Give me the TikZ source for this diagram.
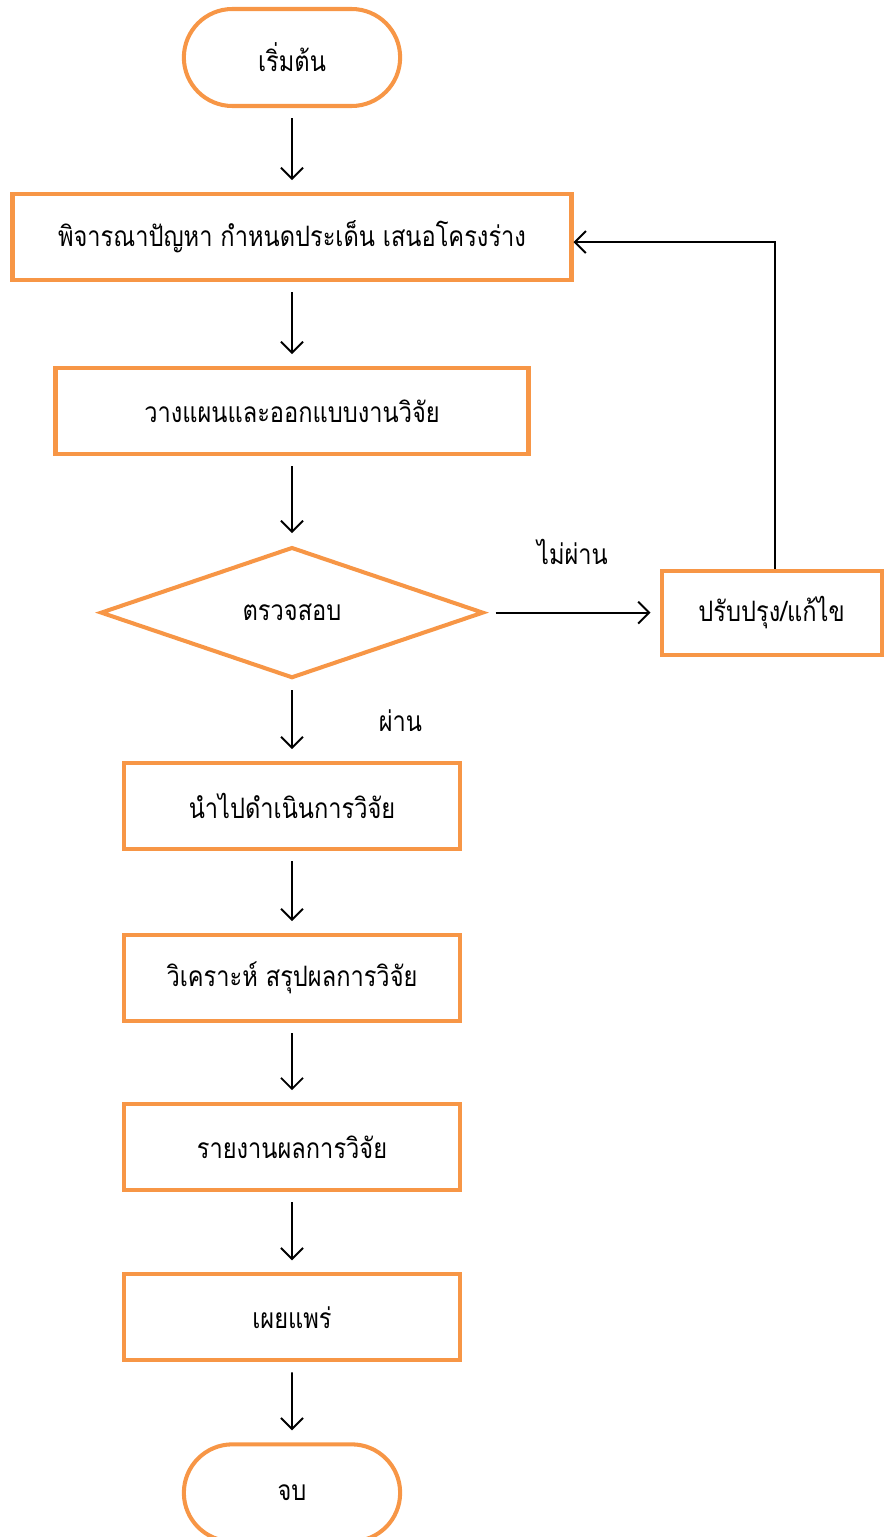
\documentclass[tikz,border=0pt]{standalone}
\usepackage{fontspec}
\newfontfamily\thaifont[Script=Thai, FakeStretch=0.84]{Loma}
\usetikzlibrary{positioning, arrows.meta, shapes.geometric, shapes.misc}
\definecolor{flowOrange}{RGB}{247,150,70}

\begin{document}
\begin{tikzpicture}[
        node distance=1.64cm,
        font=\thaifont\fontsize{16}{19}\selectfont,
        every node/.style={text=black},
        termbox/.style={draw=flowOrange, line width=2.3pt, rounded rectangle, minimum width=4.56cm, minimum height=1.94cm},
        stepbox/.style={draw=flowOrange, line width=2.3pt, align=center, minimum width=6.72cm, minimum height=1.72cm},
        checkbox/.style={draw=flowOrange, line width=2.3pt, diamond, aspect=2.9, inner sep=0pt, minimum width=7.66cm, minimum height=2.62cm},
        arrow/.style={-{Straight Barb[length=2.2mm, width=4.4mm]}, line width=1.1pt, black, shorten <=0.2cm, shorten >=0.24cm}
    ]
    \useasboundingbox (0,0) rectangle (17.66,-30.74);

    \node[termbox] (start) at (5.84,-1.15) {เริ่มต้น};
    \node[stepbox, minimum width=11.18cm, below=1.68cm of start] (plan) {พิจารณาปัญหา กำหนดประเด็น เสนอโครงร่าง};
    \node[stepbox, minimum width=9.46cm, below=1.68cm of plan] (design) {วางแผนและออกแบบงานวิจัย};
    \node[checkbox, below=1.78cm of design] (check) {ตรวจสอบ};
    \node[stepbox, minimum width=4.4cm, minimum height=1.68cm, right=3.48cm of check] (revise) {ปรับปรุง/แก้ไข};
    \node[stepbox, below=1.62cm of check] (run) {นำไปดำเนินการวิจัย};
    \node[stepbox, below=1.64cm of run] (analyse) {วิเคราะห์ สรุปผลการวิจัย};
    \node[stepbox, below=1.58cm of analyse] (report) {รายงานผลการวิจัย};
    \node[stepbox, below=1.6cm of report] (publish) {เผยแพร่};
    \node[termbox, below=1.6cm of publish] (finish) {จบ};

    \draw[arrow] (start) -- (plan);
    \draw[arrow] (plan) -- (design);
    \draw[arrow] (design) -- (check);
    \draw[arrow, shorten >=0.18cm] (check) -- node[above=0.82cm] (fail) {ไม่ผ่าน} (revise);
    \draw[arrow] (check) -- node[right=1.6cm] (pass) {ผ่าน} (run);
    \draw[arrow] (run) -- (analyse);
    \draw[arrow] (analyse) -- (report);
    \draw[arrow] (report) -- (publish);
    \draw[arrow] (publish) -- (finish);
    \draw[arrow, shorten <=0pt, shorten >=0pt] ([xshift=0.06cm]revise.north) |- ([yshift=-0.1cm]plan.east);

    \end{tikzpicture}
\end{document}
